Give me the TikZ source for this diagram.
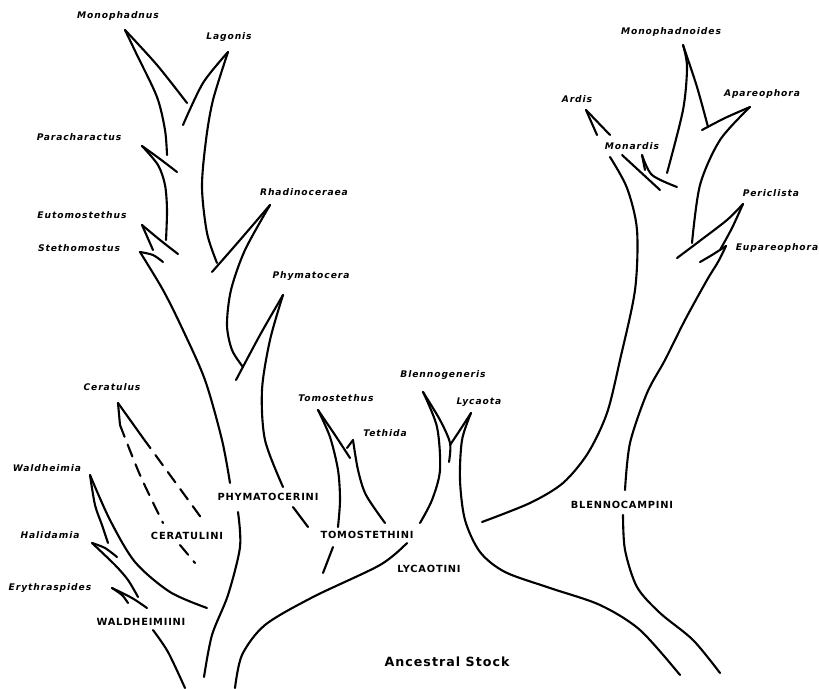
\documentclass[tikz,border=0pt]{standalone}
\usepackage{fontspec}
\newfontfamily\genusfont[LetterSpace=10,
  BoldFont={DejaVu Sans Bold}, ItalicFont={DejaVu Sans Oblique},
  BoldItalicFont={DejaVu Sans Bold Oblique}]{DejaVu Sans}
\newfontfamily\tribefont[LetterSpace=8, BoldFont={DejaVu Sans Bold}]{DejaVu Sans}

\begin{document}
\begin{tikzpicture}[x=0.025cm, y=-0.025cm,
    branch/.style={line width=1.5pt, line cap=round, line join=round},
    lost/.style={branch, dash pattern=on 9pt off 6pt},
    genus/.style={font=\genusfont\bfseries\itshape\fontsize{6.5}{7}\selectfont, inner sep=0pt},
    tribe/.style={font=\tribefont\bfseries\fontsize{7}{8}\selectfont, inner sep=0pt},
  ]
  \useasboundingbox (0,0) rectangle (819,688);

  % branch tips
  \coordinate (t-monoph) at (125,30);
  \coordinate (t-lagonis) at (228,52);
  \coordinate (t-parach) at (142,146);
  \coordinate (t-eutom) at (142,225);
  \coordinate (t-stethom) at (140,252);
  \coordinate (t-rhadin) at (270,205);
  \coordinate (t-phymat) at (283,295);
  \coordinate (t-ceratul) at (118,403);
  \coordinate (t-waldh) at (90,475);
  \coordinate (t-halid) at (92,543);
  \coordinate (t-erythr) at (112,588);
  \coordinate (t-tomost) at (318,410);
  \coordinate (t-tethida) at (353,440);
  \coordinate (t-blenno) at (423,392);
  \coordinate (t-lycaota) at (471,413);
  \coordinate (t-ardis) at (586,110);
  \coordinate (t-monard) at (642,155);
  \coordinate (t-monophs) at (683,45);
  \coordinate (t-apareo) at (750,107);
  \coordinate (t-pericl) at (743,204);
  \coordinate (t-eupareo) at (726,246);

  % Phymatocerini
  \draw[branch] plot[smooth] coordinates {(t-monoph) (137,55) (157,97) (165,130) (167,155)};
  \draw[branch] plot[smooth] coordinates {(t-monoph) (157,65) (187,103)};
  \draw[branch] plot[smooth] coordinates {(t-lagonis) (203,83) (183,125)};
  \draw[branch] plot[smooth] coordinates {(t-lagonis) (213,100) (206,140) (202,187) (207,233) (217,263)};
  \draw[branch] plot[smooth] coordinates {(t-parach) (160,159) (177,172)};
  \draw[branch] plot[smooth] coordinates {(t-parach) (158,165) (165,185) (167,210) (166,240)};
  \draw[branch] plot[smooth] coordinates {(t-eutom) (160,240) (178,254)};
  \draw[branch] (t-eutom) -- (153,250);
  \draw[branch] plot[smooth] coordinates {(t-stethom) (153,255) (163,262)};
  \draw[branch] plot[smooth] coordinates {(t-stethom) (163,290) (182,328) (205,380) (222,440) (230,483)};
  \draw[branch] plot[smooth] coordinates {(t-rhadin) (240,240) (212,272)};
  \draw[branch] plot[smooth] coordinates {(t-rhadin) (245,250) (231,290) (227,325) (232,350) (243,367)};
  \draw[branch] plot[smooth] coordinates {(t-phymat) (260,335) (236,380)};
  \draw[branch] plot[smooth] coordinates {(t-phymat) (270,340) (262,390) (265,440) (283,487)};
  \draw[branch] plot[smooth] coordinates {(238,512) (240,547) (228,595) (212,635) (204,677)};
  \draw[branch] (293,507) -- (308,527);

  % Ceratulini
  \draw[branch] (t-ceratul) -- (120,425);
  \draw[lost] plot[smooth] coordinates {(120,425) (140,475) (163,523)};
  \draw[lost] (180,545) -- (195,563);
  \draw[branch] (t-ceratul) -- (143,438);
  \draw[lost] (143,438) -- (205,523);

  % Waldheimiini
  \draw[branch] plot[smooth] coordinates {(t-waldh) (95,505) (102,525) (108,543)};
  \draw[branch] plot[smooth] coordinates {(t-waldh) (110,520) (135,562) (170,592) (207,608)};
  \draw[branch] plot[smooth] coordinates {(t-halid) (105,548) (117,557)};
  \draw[branch] plot[smooth] coordinates {(t-halid) (115,565) (128,580) (138,597)};
  \draw[branch] plot[smooth] coordinates {(t-erythr) (122,595) (128,603)};
  \draw[branch] plot[smooth] coordinates {(t-erythr) (132,598) (147,608)};
  \draw[branch] plot[smooth] coordinates {(153,630) (168,652) (185,688)};

  % Tomostethini
  \draw[branch] plot[smooth] coordinates {(t-tomost) (330,437) (338,470) (340,500) (338,527)};
  \draw[branch] plot[smooth] coordinates {(t-tomost) (335,435) (350,458)};
  \draw[branch] (t-tethida) -- (347,448);
  \draw[branch] plot[smooth] coordinates {(t-tethida) (358,470) (366,495) (385,523)};
  \draw[branch] (333,547) -- (323,573);

  % Lycaotini and the ancestral stock
  \draw[branch] plot[smooth] coordinates {(t-blenno) (437,427) (440,470) (432,500) (420,523)};
  \draw[branch] plot[smooth] coordinates {(t-blenno) (440,420) (450,443) (449,462)};
  \draw[branch] plot[smooth] coordinates {(t-lycaota) (460,430) (450,445)};
  \draw[branch] plot[smooth] coordinates {(t-lycaota) (462,440) (460,480) (465,520) (480,552)
    (505,572) (550,588) (600,605) (640,630) (680,675)};
  \draw[branch] plot[smooth] coordinates {(235,688) (242,655) (265,625) (313,597) (380,565) (407,543)};

  % Blennocampini
  \draw[branch] (t-ardis) -- (597,135);
  \draw[branch] (t-ardis) -- (610,135);
  \draw[branch] (622,155) -- (660,190);
  \draw[branch] (t-monard) -- (645,170);
  \draw[branch] plot[smooth] coordinates {(t-monard) (652,175) (677,187)};
  \draw[branch] plot[smooth] coordinates {(610,157) (627,188) (637,230) (635,290) (620,360)
    (607,413) (588,453) (563,483) (530,503) (482,522)};
  \draw[branch] plot[smooth] coordinates {(t-monophs) (687,67) (683,110) (667,173)};
  \draw[branch] plot[smooth] coordinates {(t-monophs) (697,87) (708,127)};
  \draw[branch] plot[smooth] coordinates {(t-apareo) (725,118) (702,130)};
  \draw[branch] plot[smooth] coordinates {(t-apareo) (720,140) (700,185) (692,243)};
  \draw[branch] plot[smooth] coordinates {(t-pericl) (727,220) (697,243) (677,258)};
  \draw[branch] plot[smooth] coordinates {(t-pericl) (732,228) (720,250)};
  \draw[branch] plot[smooth] coordinates {(t-eupareo) (712,255) (700,262)};
  \draw[branch] plot[smooth] coordinates {(t-eupareo) (718,262) (707,280) (685,320) (665,360)
    (647,393) (630,443) (625,490)};
  \draw[branch] plot[smooth] coordinates {(623,515) (625,550) (637,587) (660,613) (693,640) (720,673)};

  % genera
  \node[genus] (monophadnus) at (118,16) {Monophadnus};
  \node[genus] (lagonis) at (229,37) {Lagonis};
  \node[genus] (paracharactus) at (79,137) {Paracharactus};
  \node[genus] (eutomostethus) at (82,215) {Eutomostethus};
  \node[genus] (stethomostus) at (79,248) {Stethomostus};
  \node[genus] (rhadinoceraea) at (304,192) {Rhadinoceraea};
  \node[genus] (phymatocera) at (311,276) {Phymatocera};
  \node[genus] (ceratulus) at (112,387) {Ceratulus};
  \node[genus] (waldheimia) at (47,468) {Waldheimia};
  \node[genus] (halidamia) at (50,535) {Halidamia};
  \node[genus] (erythraspides) at (50,588) {Erythraspides};
  \node[genus] (tomostethus) at (336,398) {Tomostethus};
  \node[genus] (tethida) at (385,433) {Tethida};
  \node[genus] (blennogeneris) at (443,375) {Blennogeneris};
  \node[genus] (lycaota) at (479,402) {Lycaota};
  \node[genus] (monophadnoides) at (671,32) {Monophadnoides};
  \node[genus] (ardis) at (577,99) {Ardis};
  \node[genus] (monardis) at (632,146) {Monardis};
  \node[genus] (apareophora) at (762,94) {Apareophora};
  \node[genus] (periclista) at (771,193) {Periclista};
  \node[genus] (eupareophora) at (777,248) {Eupareophora};

  % tribes
  \node[tribe] (phymatocerini) at (268,497) {PHYMATOCERINI};
  \node[tribe] (ceratulini) at (187,536) {CERATULINI};
  \node[tribe] (waldheimiini) at (141,622) {WALDHEIMIINI};
  \node[tribe] (tomostethini) at (367,535) {TOMOSTETHINI};
  \node[tribe] (lycaotini) at (429,569) {LYCAOTINI};
  \node[tribe] (blennocampini) at (622,505) {BLENNOCAMPINI};
  \node[font=\tribefont\bfseries\fontsize{9}{10}\selectfont, inner sep=0pt]
    (stock) at (447,662) {Ancestral Stock};
\end{tikzpicture}
\end{document}
